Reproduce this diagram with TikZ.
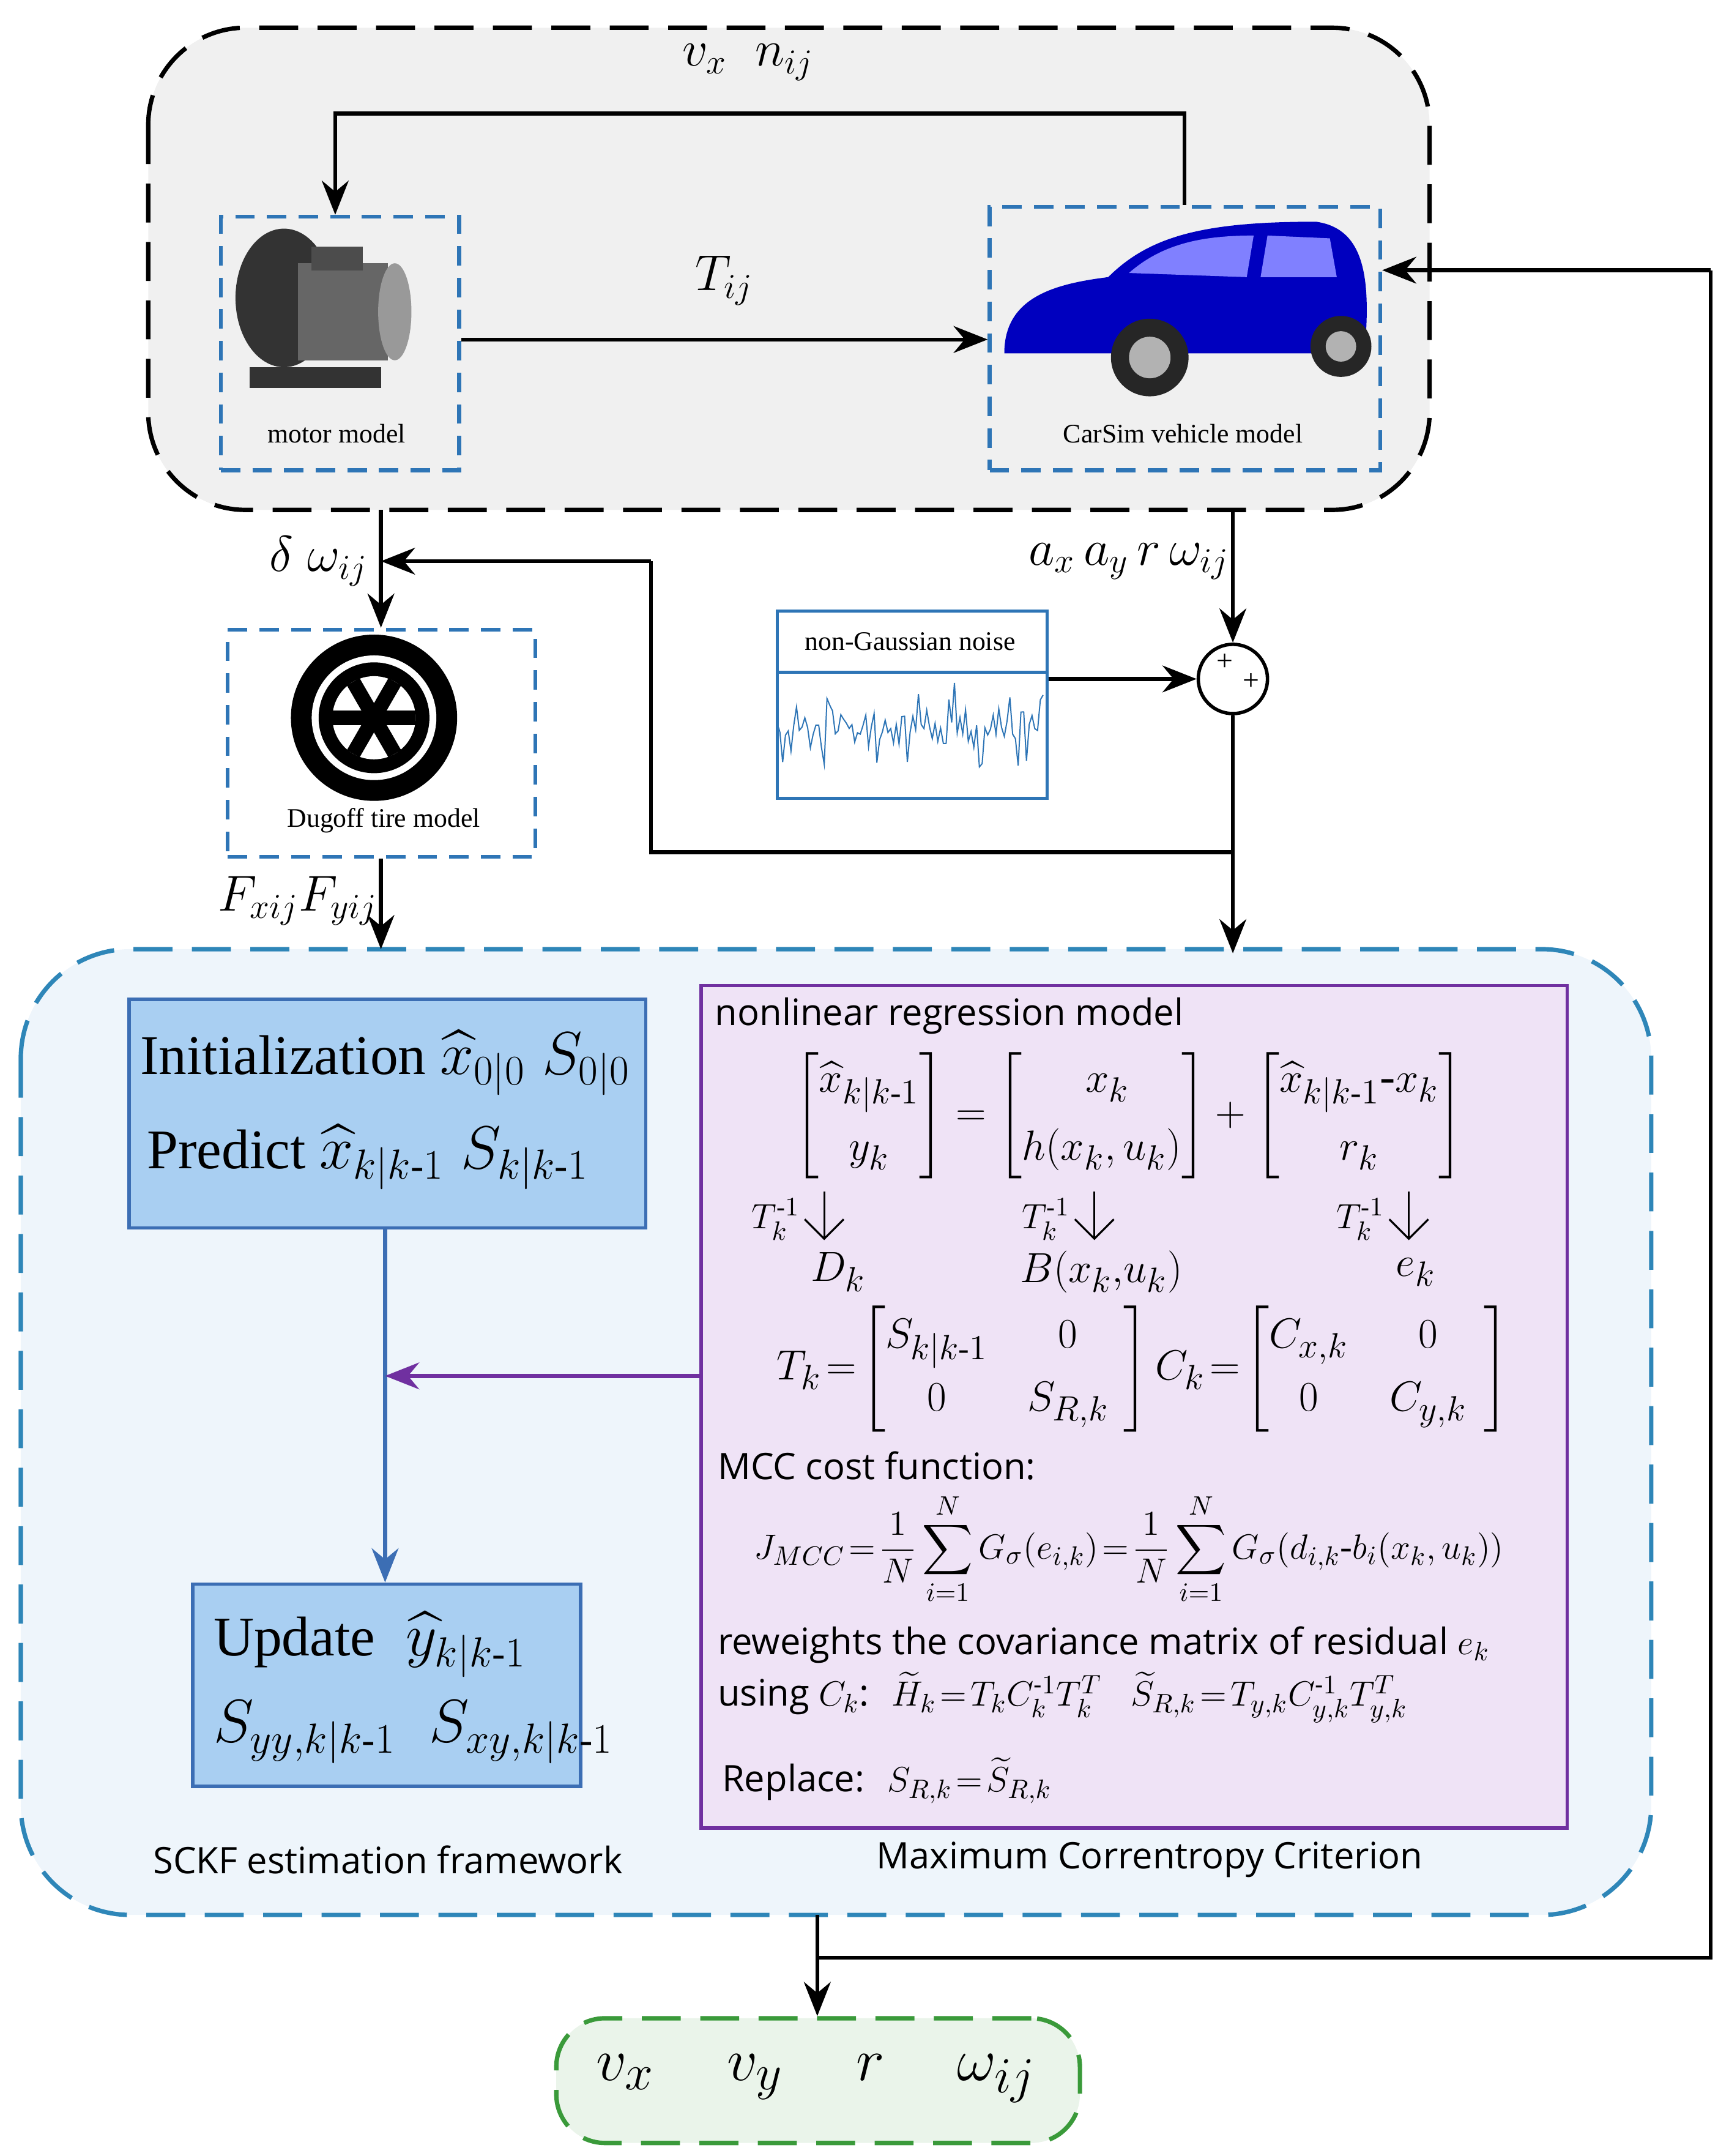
\documentclass[tikz,border=0pt]{standalone}
\usepackage{amsmath}
\usepackage{fontspec}
\setmainfont{Liberation Serif}
\setsansfont{Open Sans}
\usetikzlibrary{arrows.meta,calc}
\definecolor{dblue}{HTML}{2E75B6}
\definecolor{boxblue}{HTML}{A9CFF2}
\definecolor{boxedge}{HTML}{3C6EB4}
\definecolor{lav}{HTML}{EFE3F6}
\definecolor{purp}{HTML}{7030A0}
\definecolor{bigbg}{HTML}{EEF5FB}
\definecolor{bigedge}{HTML}{2E86B8}
\definecolor{gbg}{HTML}{EAF4EA}
\definecolor{gedge}{HTML}{3A9A3A}
\tikzset{
 conn/.style={line width=1.6pt,-{Stealth[length=14pt,width=11pt]}},
 line/.style={line width=1.6pt},
 dbox/.style={draw=dblue,dash pattern=on 8pt off 5pt,line width=1.6pt},
 lbl/.style={font=\fontsize{22}{24}\selectfont},
 tx/.style={font=\fontsize{15}{18}\selectfont,anchor=west},
 sm/.style={font=\fontsize{11}{13}\selectfont},
}
\begin{document}
\begin{tikzpicture}[x=0.02cm,y=-0.02cm]
\useasboundingbox (0,0) rectangle (1240,1556);
% top grey box
\draw[fill=black!6,rounded corners=40pt,dash pattern=on 16pt off 8pt,line width=1.8pt] (107,20) rectangle (1032,368);
\node[dbox,minimum width=172*0.02cm,minimum height=183*0.02cm,anchor=north west] (motor) at (158,155) {};
\node[dbox,minimum width=282*0.02cm,minimum height=190*0.02cm,anchor=north west] (car) at (713,148) {};
% motor drawing
\fill[black!80] (205,215) ellipse (35 and 50);
\fill[black!60] (215,190) rectangle (280,260);
\fill[black!40] (285,225) ellipse (12 and 35);
\fill[black!70] (225,178) rectangle (262,195);
\fill[black!80] (180,265) rectangle (275,280);
\node[sm] at (243,313) {motor model};
% car drawing
\fill[blue!75!black] (725,255) .. controls (725,215) and (760,205) .. (800,200) .. controls (830,170) and (870,160) .. (950,160) .. controls (985,165) and (990,200) .. (985,255) -- cycle;
\fill[blue!50!white] (815,197) .. controls (840,175) and (870,170) .. (905,170) -- (900,200) -- cycle;
\fill[blue!50!white] (915,170) -- (960,172) -- (965,200) -- (910,200) -- cycle;
\fill[black!85] (830,258) circle (28); \fill[black!30] (830,258) circle (15);
\fill[black!85] (968,250) circle (22); \fill[black!30] (968,250) circle (11);
\node[sm] at (854,313) {CarSim vehicle model};
\draw[conn] (motor.east|-0,245) -- node[above=10pt,lbl]{$T_{ij}$} (car.west|-0,245);
\draw[conn] (855,148) -- (855,82) -- (242,82) -- (242,155);
\node[lbl] at (540,45) {$v_x\;\; n_{ij}$};
% tire
\node[dbox,minimum width=222*0.02cm,minimum height=164*0.02cm,anchor=north west] (tire) at (163,453) {};
\fill[black] (270,518) circle (60); \fill[white] (270,518) circle (45); \fill[black] (270,518) circle (40);
\fill[white] (270,518) circle (30);
\foreach \a in {0,60,...,300} \draw[line width=6pt] (270,518) -- ++(\a:-30);
\fill[black] (270,518) circle (8);
\node[sm] at (277,592) {Dugoff tire model};
\draw[conn] (275,368) -- (tire.north-|275,0);
\node[lbl] at (230,405) {$\delta\;\omega_{ij}$};
% noise
\node[draw=dblue,line width=1.2pt,minimum width=195*0.02cm,minimum height=135*0.02cm,anchor=north west] (noise) at (560,440) {};
\draw[dblue,line width=1.2pt] (560,485) -- (755,485);
\node[sm] at (657,463) {non-Gaussian noise};
\pgfmathsetseed{7}
\draw[dblue,line width=0.5pt] (562,525) \foreach \i in {563,565,...,753} { -- (\i,{525+35*rand*abs(rand)}) };
% sum
\node[draw,circle,line width=1.4pt,minimum size=50*0.02cm,inner sep=0] (sum) at (890,490) {};
\node[font=\large] at (884,478) {+}; \node[font=\large] at (903,492) {+};
\draw[conn] (890,368) -- (sum.north);
\node[lbl] at (815,405) {$a_x\,a_y\,r\,\omega_{ij}$};
\draw[conn] (noise.east|-0,490) -- (sum.west);
\draw[line] (sum.south) -- (890,615) -- (470,615) -- (470,405);
\draw[conn] (470,405) -- (275,405);
% big box
\draw[fill=bigbg,draw=bigedge,rounded corners=45pt,dash pattern=on 16pt off 8pt,line width=1.8pt] (15,685) rectangle (1192,1382);
\draw[conn] (890,615) -- (890,688);
\draw[conn] (tire.south-|275,0) -- (275,685);
\node[lbl] at (215,650) {$F_{xij}F_{yij}$};
% init
\node[draw=boxedge,fill=boxblue,line width=1.4pt,minimum width=373*0.02cm,minimum height=165*0.02cm,anchor=north west] (init) at (92,720) {};
\node[font=\fontsize{23}{26}\selectfont] at (278,767) {Initialization $\widehat{x}_{0|0}\;S_{0|0}$};
\node[font=\fontsize{23}{26}\selectfont,anchor=west] at (100,835) {Predict $\widehat{x}_{k|k\text{-}1}\;S_{k|k\text{-}1}$};
\node[draw=boxedge,fill=boxblue,line width=1.4pt,minimum width=280*0.02cm,minimum height=146*0.02cm,anchor=north west] (upd) at (138,1142) {};
\node[font=\fontsize{23}{26}\selectfont,anchor=west] at (148,1187) {Update $\;\widehat{y}_{k|k\text{-}1}$};
\node[font=\fontsize{23}{26}\selectfont,anchor=west] at (148,1250) {$S_{yy,k|k\text{-}1}\;\;S_{xy,k|k\text{-}1}$};
\draw[conn,draw=boxedge] (init.south-|278,0) -- (upd.north-|278,0);
% purple box
\node[draw=purp,fill=lav,line width=1.4pt,minimum width=625*0.02cm,minimum height=608*0.02cm,anchor=north west] (mcc) at (505,710) {};
\draw[conn,draw=purp] (mcc.west|-0,993) -- (278,993);
\node[tx,font=\sffamily\fontsize{15}{18}\selectfont] at (510,733) {nonlinear regression model};
\node[font=\fontsize{19}{22}\selectfont] at (815,805) {$\begin{bmatrix}\widehat{x}_{k|k\text{-}1}\\[6pt] y_k\end{bmatrix}=\begin{bmatrix}\;x_k\\[6pt] h(x_k,u_k)\end{bmatrix}+\begin{bmatrix}\widehat{x}_{k|k\text{-}1}\text{-}x_k\\[6pt] r_k\end{bmatrix}$};
\foreach \xa/\lab/\lx in {600/D_k/605,795/B(x_k{,}u_k)/795,1022/e_k/1022}{
 \node[font=\fontsize{15}{18}\selectfont] at (\xa-40,880) {$T_k^{\text{-}1}$};
 \draw[line width=0.8pt,-{Straight Barb[length=8pt]}] (\xa-5,860) -- (\xa-5,895);
 \node[font=\fontsize{19}{22}\selectfont] at (\lx,918) {$\lab$};}
\node[font=\fontsize{19}{22}\selectfont] at (825,988) {$T_k\!=\!\begin{bmatrix}S_{k|k\text{-}1}&\quad 0\quad\\[4pt] 0&S_{R,k}\end{bmatrix}C_k\!=\!\begin{bmatrix}C_{x,k}&\quad 0\quad\\[4pt] 0&C_{y,k}\end{bmatrix}$};
\node[tx,font=\sffamily\fontsize{15}{18}\selectfont] at (512,1058) {MCC cost function:};
\node[font=\fontsize{15}{18}\selectfont] at (815,1118) {$J_{MCC}\!=\!\dfrac{1}{N}\displaystyle\sum_{i=1}^{N}G_\sigma(e_{i,k})\!=\!\dfrac{1}{N}\sum_{i=1}^{N}G_\sigma(d_{i,k}\text{-}b_i(x_k,u_k))$};
\node[tx,font=\sffamily\fontsize{15}{18}\selectfont] at (512,1187) {reweights the covariance matrix of residual $e_k$};
\node[tx,font=\sffamily\fontsize{15}{18}\selectfont] at (512,1225) {using $C_k$:\; $\widetilde{H}_k\!=\!T_kC_k^{\text{-}1}T_k^T\;\;\;\widetilde{S}_{R,k}\!=\!T_{y,k}C_{y,k}^{\text{-}1}T_{y,k}^T$};
\node[tx,font=\sffamily\fontsize{15}{18}\selectfont] at (515,1285) {Replace:\; $S_{R,k}\!=\!\widetilde{S}_{R,k}$};
\node[font=\sffamily\fontsize{15}{18}\selectfont] at (280,1342) {SCKF estimation framework};
\node[font=\sffamily\fontsize{15}{18}\selectfont] at (830,1342) {Maximum Correntropy Criterion};
% output
\node[draw=gedge,fill=gbg,rounded corners=20pt,dash pattern=on 16pt off 8pt,line width=1.8pt,minimum width=378*0.02cm,minimum height=90*0.02cm,anchor=north west] (out) at (400,1455) {};
\node[font=\fontsize{30}{32}\selectfont] at (589,1500) {$v_x\quad v_y\quad r\quad \omega_{ij}$};
\draw[conn] (590,1382) -- (out.north-|590,0);
\draw[line] (590,1413) -- (1235,1413) -- (1235,195);
\draw[conn] (1235,195) -- (car.east|-0,195);
\end{tikzpicture}
\end{document}
